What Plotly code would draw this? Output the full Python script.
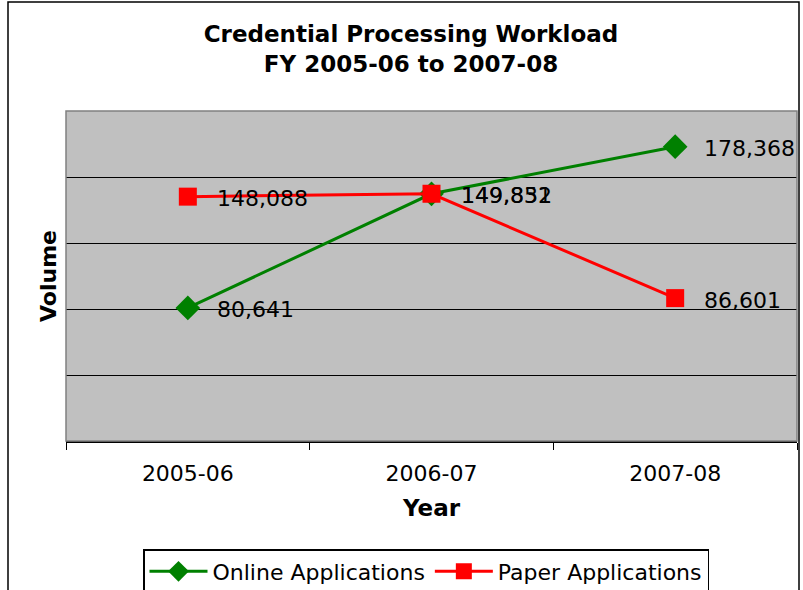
import plotly.graph_objects as go

years = ["2005-06", "2006-07", "2007-08"]
online = [80641, 149832, 178368]
paper = [148088, 149851, 86601]
y_ticks = [0, 40000, 80000, 120000, 160000, 200000]

FONT = "DejaVu Sans"
W, H = 803, 590
L, R, T, B = 66, 6, 111, 149
pw, ph = W - L - R, H - T - B


def px_x(px):
    return (px - L) / pw


def px_y(px):
    return (T + ph - px) / ph


fig = go.Figure()
fig.add_trace(go.Scatter(
    x=years, y=online, name="Online Applications", mode="lines+markers",
    line=dict(color="#008000", width=3),
    marker=dict(symbol="diamond", size=19, color="#008000"),
))
fig.add_trace(go.Scatter(
    x=years, y=paper, name="Paper Applications", mode="lines+markers",
    line=dict(color="#FF0000", width=3),
    marker=dict(symbol="square", size=18, color="#FF0000"),
))

for series in (online, paper):
    for xv, yv in zip(years, series):
        fig.add_annotation(x=xv, y=yv, text=f"{yv:,}", showarrow=False,
                           xanchor="left", yanchor="middle", xshift=27, yshift=-2,
                           font=dict(family=FONT, size=22, color="#000000"))

# plot-area border (gray)
fig.add_shape(type="rect", xref="paper", yref="paper", x0=0, x1=1, y0=0, y1=1,
              line=dict(color="#808080", width=1.5), layer="above")
# outer chart border
fig.add_shape(type="rect", xref="paper", yref="paper",
              x0=px_x(8), x1=px_x(799), y0=px_y(620), y1=px_y(2),
              line=dict(color="#000000", width=1.5))

fig.update_layout(
    width=W, height=H,
    margin=dict(l=L, r=R, t=T, b=B, autoexpand=False),
    paper_bgcolor="white", plot_bgcolor="#C0C0C0",
    font=dict(family=FONT, color="#000000"),
    title=dict(text="<b>Credential Processing Workload<br>FY 2005-06 to 2007-08</b>",
               x=411 / W, xanchor="center", y=1 - 42 / H, yanchor="top",
               font=dict(family=FONT, size=23)),
    xaxis=dict(type="category", range=[-0.5, 2.5], tickson="boundaries",
               ticks="outside", ticklen=7, tickcolor="#000000",
               showline=True, linecolor="#000000", linewidth=1.5,
               showgrid=False, tickfont=dict(size=22), ticklabelstandoff=12,
               title=dict(text="<b>Year</b>", font=dict(size=23), standoff=15)),
    yaxis=dict(range=[0, 200000], tickvals=y_ticks, showticklabels=False,
               showgrid=True, gridcolor="#000000", gridwidth=1,
               zeroline=False, showline=False,
               title=dict(text="<b>Volume</b>", font=dict(size=22), standoff=2)),
    showlegend=True,
    legend=dict(orientation="h", x=px_x(426), xanchor="center",
                y=px_y(549), yanchor="top", itemwidth=58,
                bordercolor="#000000", borderwidth=1.5, bgcolor="white",
                font=dict(size=22), tracegroupgap=0),
)

fig.write_html("out.html", config={"displayModeBar": False},
               post_script="document.body.style.margin='0';")
